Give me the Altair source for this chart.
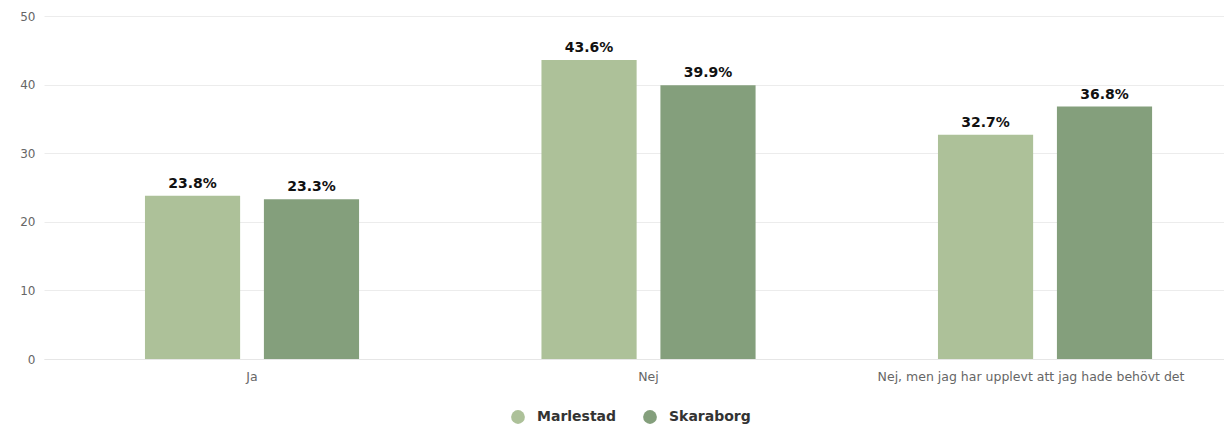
import altair as alt
import pandas as pd

categories = ["Ja", "Nej", "Nej, men jag har upplevt att jag hade behövt det"]
series = ["Marlestad", "Skaraborg"]
marlestad = [23.8, 43.6, 32.7]
skaraborg = [23.3, 39.9, 36.8]
colors = ["#adc199", "#849f7c"]

rows = []
for i, c in enumerate(categories):
    rows.append({"cat": c, "series": series[0], "value": marlestad[i]})
    rows.append({"cat": c, "series": series[1], "value": skaraborg[i]})
df = pd.DataFrame(rows)
df["label"] = df["value"].map(lambda v: f"{v:.1f}%")

x = alt.X("cat:N", sort=categories, title=None,
          scale=alt.Scale(paddingInner=0.46, paddingOuter=0.218, align=0.584),
          axis=alt.Axis(labelAngle=0, labelColor="#666666", labelFontSize=12.5,
                        labelFont="DejaVu Sans", labelLimit=0, domain=True,
                        domainColor="#e6e6e6", ticks=False, labelPadding=11,
                        labelOffset={"condition": {"test": f"datum.value == '{categories[2]}'",
                                                   "value": -14},
                                     "value": 0}))
xo = alt.XOffset("series:N", sort=series,
                 scale=alt.Scale(paddingInner=0.2, paddingOuter=0))
y = alt.Y("value:Q", title=None,
          scale=alt.Scale(domain=[0, 50]),
          axis=alt.Axis(values=[0, 10, 20, 30, 40, 50], labelColor="#666666",
                        labelFontSize=12, labelFont="DejaVu Sans", domain=False,
                        ticks=False, gridColor="#ececec", labelPadding=9))

color = alt.Color("series:N", sort=series,
                  scale=alt.Scale(domain=series, range=colors),
                  legend=alt.Legend(title=None, orient="none", direction="horizontal",
                                    legendX=467, legendY=394, symbolType="circle",
                                    symbolSize=190, symbolStrokeWidth=0,
                                    labelFont="DejaVu Sans", labelFontSize=14,
                                    labelFontWeight="bold", labelColor="#333333",
                                    columnPadding=26, labelOffset=12))

bars = alt.Chart(df).mark_bar().encode(x=x, xOffset=xo, y=y, color=color)
text = alt.Chart(df).mark_text(dy=-12, font="DejaVu Sans", fontSize=14,
                               fontWeight="bold", color="#111111").encode(
    x=x, xOffset=xo, y=y, text="label:N")

chart = (bars + text).properties(
    width=1180, height=343,
    autosize=alt.AutoSizeParams(type="none"),
    padding={"left": 36, "top": 8, "right": 0, "bottom": 69},
).configure_view(stroke=None).configure_axis(grid=True)
chart = chart.configure_axisX(grid=False)

chart.save("out.html", embed_options={"renderer": "svg", "actions": False})
